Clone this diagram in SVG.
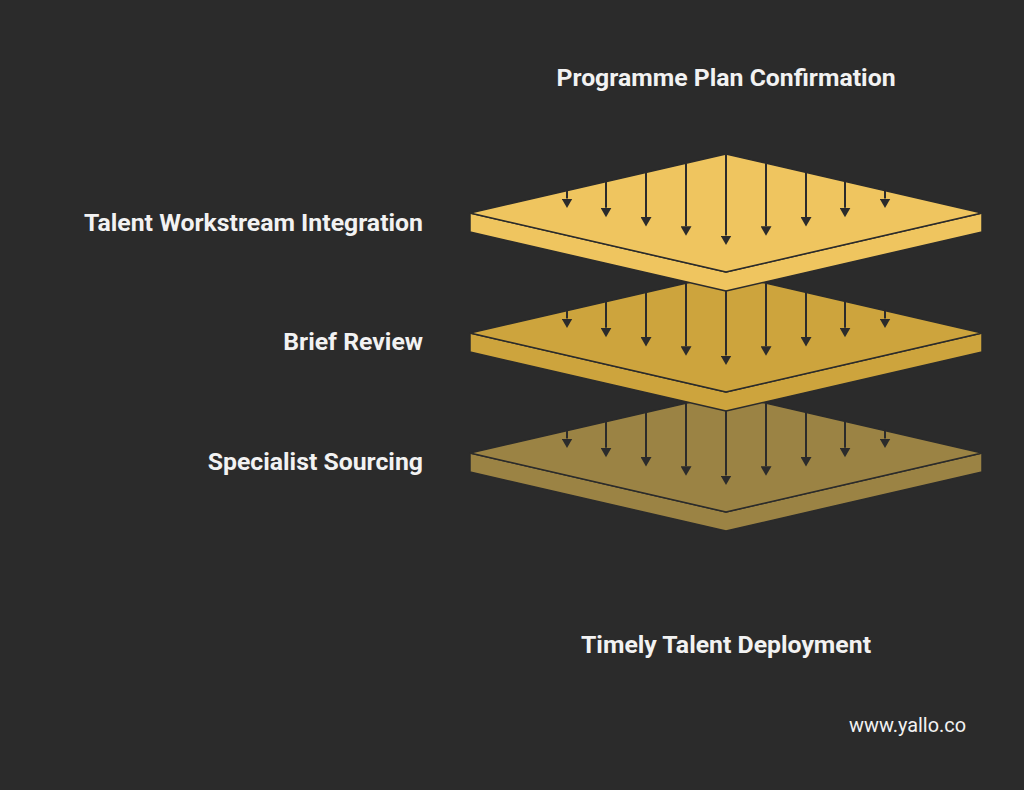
<svg xmlns="http://www.w3.org/2000/svg" width="1024" height="790" viewBox="0 0 1024 790">
<style>
.bg{fill:#2b2b2b}
.t{font-family:Roboto,"Liberation Sans",sans-serif;font-weight:700;font-size:24.8px;fill:#f2f2f2}
.u{font-family:Roboto,"Liberation Sans",sans-serif;font-size:19.9px;fill:#f2f2f2}
.face,.side{stroke:#2b2b2b;stroke-width:1.5;stroke-linejoin:round}
.l1{fill:#efc55f}
.l2{fill:#cda43d}
.l3{fill:#9b8344}
.arr line{stroke:#2b2b2b;stroke-width:2}
</style>
<defs>
<marker id="ah" markerUnits="userSpaceOnUse" markerWidth="11" markerHeight="11" viewBox="0 0 11 11" refX="0" refY="5.5" orient="auto">
<path d="M0,0 L9.5,5.5 L0,11 z" fill="#2b2b2b"/>
</marker>
<g id="arrows" class="arr">
<line x1="567" y1="190.6" x2="567" y2="198.5" marker-end="url(#ah)"/>
<line x1="606" y1="181.5" x2="606" y2="207.7" marker-end="url(#ah)"/>
<line x1="646" y1="172.3" x2="646" y2="217" marker-end="url(#ah)"/>
<line x1="686" y1="163.2" x2="686" y2="226.2" marker-end="url(#ah)"/>
<line x1="726" y1="154" x2="726" y2="235.5" marker-end="url(#ah)"/>
<line x1="766" y1="163.2" x2="766" y2="226.2" marker-end="url(#ah)"/>
<line x1="806" y1="172.3" x2="806" y2="217" marker-end="url(#ah)"/>
<line x1="845" y1="181.5" x2="845" y2="207.7" marker-end="url(#ah)"/>
<line x1="885" y1="190.6" x2="885" y2="198.5" marker-end="url(#ah)"/>
</g>
</defs>
<rect class="bg" x="0" y="0" width="1024" height="790"/>
<g id="layer3" transform="translate(0,240)">
<polygon class="side l3" points="470,213 726,272 982,213 982,232 726,291 470,232"/>
<polygon class="face l3" points="726,154 982,213 726,272 470,213"/>
<use href="#arrows"/>
</g>
<g id="layer2" transform="translate(0,120)">
<polygon class="side l2" points="470,213 726,272 982,213 982,232 726,291 470,232"/>
<polygon class="face l2" points="726,154 982,213 726,272 470,213"/>
<use href="#arrows"/>
</g>
<g id="layer1">
<polygon class="side l1" points="470,213 726,272 982,213 982,232 726,291 470,232"/>
<polygon class="face l1" points="726,154 982,213 726,272 470,213"/>
<use href="#arrows"/>
</g>
<g id="labels">
<text class="t" x="726" y="86" text-anchor="middle">Programme Plan Confirmation</text>
<text class="t" x="423" y="231" text-anchor="end">Talent Workstream Integration</text>
<text class="t" x="423" y="350" text-anchor="end">Brief Review</text>
<text class="t" x="423" y="470" text-anchor="end">Specialist Sourcing</text>
<text class="t" x="726" y="653" text-anchor="middle">Timely Talent Deployment</text>
<text class="u" x="966" y="732" text-anchor="end">www.yallo.co</text>
</g>
</svg>
